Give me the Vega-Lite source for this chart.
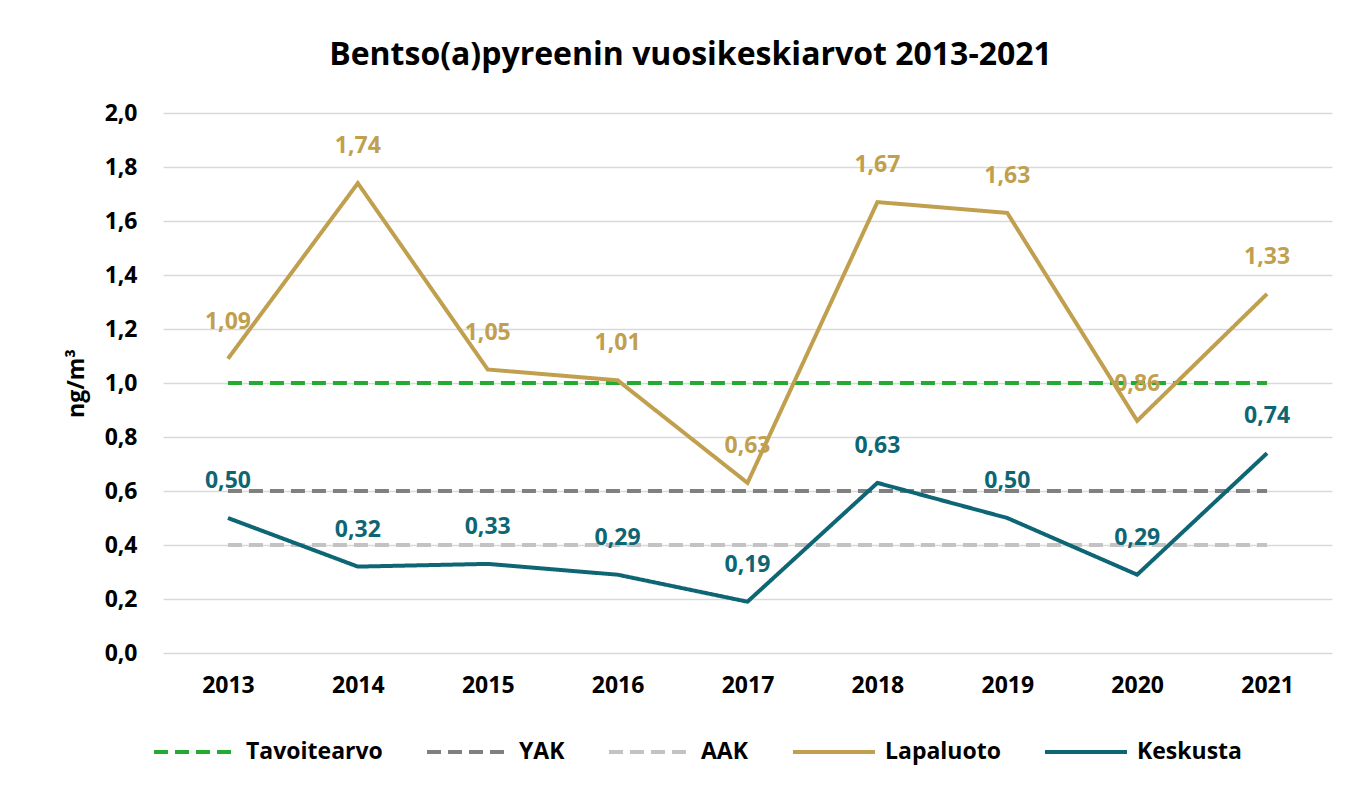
{
  "$schema": "https://vega.github.io/schema/vega-lite/v6.json",
  "width": 1169,
  "height": 540,
  "autosize": "none",
  "padding": {"left": 163, "top": 113, "right": 19, "bottom": 136},
  "background": "white",
  "title": {
    "text": "Bentso(a)pyreenin vuosikeskiarvot 2013-2021",
    "font": "Open Sans",
    "fontSize": 32,
    "fontWeight": "bold",
    "color": "#000000",
    "anchor": "middle",
    "frame": "group",
    "dx": -57,
    "offset": 30
  },
  "data": {
    "values": [
      {"year": "2013", "series": "Tavoitearvo", "value": 1.0},
      {"year": "2014", "series": "Tavoitearvo", "value": 1.0},
      {"year": "2015", "series": "Tavoitearvo", "value": 1.0},
      {"year": "2016", "series": "Tavoitearvo", "value": 1.0},
      {"year": "2017", "series": "Tavoitearvo", "value": 1.0},
      {"year": "2018", "series": "Tavoitearvo", "value": 1.0},
      {"year": "2019", "series": "Tavoitearvo", "value": 1.0},
      {"year": "2020", "series": "Tavoitearvo", "value": 1.0},
      {"year": "2021", "series": "Tavoitearvo", "value": 1.0},
      {"year": "2013", "series": "YAK", "value": 0.6},
      {"year": "2014", "series": "YAK", "value": 0.6},
      {"year": "2015", "series": "YAK", "value": 0.6},
      {"year": "2016", "series": "YAK", "value": 0.6},
      {"year": "2017", "series": "YAK", "value": 0.6},
      {"year": "2018", "series": "YAK", "value": 0.6},
      {"year": "2019", "series": "YAK", "value": 0.6},
      {"year": "2020", "series": "YAK", "value": 0.6},
      {"year": "2021", "series": "YAK", "value": 0.6},
      {"year": "2013", "series": "AAK", "value": 0.4},
      {"year": "2014", "series": "AAK", "value": 0.4},
      {"year": "2015", "series": "AAK", "value": 0.4},
      {"year": "2016", "series": "AAK", "value": 0.4},
      {"year": "2017", "series": "AAK", "value": 0.4},
      {"year": "2018", "series": "AAK", "value": 0.4},
      {"year": "2019", "series": "AAK", "value": 0.4},
      {"year": "2020", "series": "AAK", "value": 0.4},
      {"year": "2021", "series": "AAK", "value": 0.4},
      {"year": "2013", "series": "Lapaluoto", "value": 1.09},
      {"year": "2014", "series": "Lapaluoto", "value": 1.74},
      {"year": "2015", "series": "Lapaluoto", "value": 1.05},
      {"year": "2016", "series": "Lapaluoto", "value": 1.01},
      {"year": "2017", "series": "Lapaluoto", "value": 0.63},
      {"year": "2018", "series": "Lapaluoto", "value": 1.67},
      {"year": "2019", "series": "Lapaluoto", "value": 1.63},
      {"year": "2020", "series": "Lapaluoto", "value": 0.86},
      {"year": "2021", "series": "Lapaluoto", "value": 1.33},
      {"year": "2013", "series": "Keskusta", "value": 0.50},
      {"year": "2014", "series": "Keskusta", "value": 0.32},
      {"year": "2015", "series": "Keskusta", "value": 0.33},
      {"year": "2016", "series": "Keskusta", "value": 0.29},
      {"year": "2017", "series": "Keskusta", "value": 0.19},
      {"year": "2018", "series": "Keskusta", "value": 0.63},
      {"year": "2019", "series": "Keskusta", "value": 0.50},
      {"year": "2020", "series": "Keskusta", "value": 0.29},
      {"year": "2021", "series": "Keskusta", "value": 0.74}
    ]
  },
  "encoding": {
    "x": {
      "field": "year",
      "type": "ordinal",
      "scale": {"type": "point", "padding": 0.5},
      "axis": {
        "title": null,
        "labelAngle": 0,
        "labelFont": "Open Sans",
        "labelFontSize": 23,
        "labelFontWeight": "bold",
        "labelColor": "#000000",
        "labelPadding": 21,
        "domain": false,
        "ticks": false,
        "grid": false
      }
    },
    "y": {
      "field": "value",
      "type": "quantitative",
      "scale": {"domain": [0, 2]},
      "axis": {
        "title": "ng/m³",
        "titleFont": "Open Sans",
        "titleFontSize": 23,
        "titleFontWeight": "bold",
        "titleColor": "#000000",
        "titleAngle": -90,
        "titleX": -87,
        "titleY": 270,
        "titleAlign": "center",
        "titleBaseline": "middle",
        "values": [0, 0.2, 0.4, 0.6, 0.8, 1.0, 1.2, 1.4, 1.6, 1.8, 2.0],
        "format": ".1f",
        "labelFont": "Open Sans",
        "labelFontSize": 23,
        "labelFontWeight": "bold",
        "labelColor": "#000000",
        "labelPadding": 26,
        "domain": false,
        "ticks": false,
        "grid": true,
        "gridColor": "#D9D9D9",
        "gridWidth": 1.5
      }
    },
    "color": {
      "field": "series",
      "type": "nominal",
      "scale": {
        "domain": ["Tavoitearvo", "YAK", "AAK", "Lapaluoto", "Keskusta"],
        "range": ["#22AA33", "#808080", "#C3C3C3", "#C0A04F", "#0E6675"]
      },
      "legend": {
        "title": null,
        "orient": "none",
        "direction": "horizontal",
        "legendX": -11,
        "legendY": 596,
        "symbolType": "stroke",
        "symbolSize": 6724,
        "labelFont": "Open Sans",
        "labelFontSize": 23,
        "labelFontWeight": "bold",
        "labelColor": "#000000",
        "labelOffset": 8,
        "columnPadding": 36,
        "padding": 0
      }
    },
    "strokeDash": {
      "field": "series",
      "type": "nominal",
      "scale": {
        "domain": ["Tavoitearvo", "YAK", "AAK", "Lapaluoto", "Keskusta"],
        "range": [[14, 7], [14, 7], [14, 7], [1, 0], [1, 0]]
      },
      "legend": null
    },
    "strokeWidth": {
      "field": "series",
      "type": "nominal",
      "scale": {
        "domain": ["Tavoitearvo", "YAK", "AAK", "Lapaluoto", "Keskusta"],
        "range": [4, 4, 4, 6, 6]
      },
      "legend": null
    }
  },
  "layer": [
    {
      "transform": [{"filter": "datum.series === 'Tavoitearvo' || datum.series === 'YAK' || datum.series === 'AAK'"}],
      "mark": {"type": "line"}
    },
    {
      "transform": [{"filter": "datum.series === 'Lapaluoto' || datum.series === 'Keskusta'"}],
      "mark": {"type": "line", "strokeJoin": "miter"}
    },
    {
      "transform": [{"filter": "datum.series === 'Lapaluoto' || datum.series === 'Keskusta'"}],
      "mark": {"type": "text", "dy": -37, "font": "Open Sans", "fontSize": 23, "fontWeight": "bold"},
      "encoding": {
        "text": {"field": "value", "type": "quantitative", "format": ".2f"},
        "strokeDash": null,
        "strokeWidth": null
      }
    }
  ],
  "config": {
    "locale": {"number": {"decimal": ",", "thousands": " ", "grouping": [3], "currency": ["", " €"]}},
    "view": {"stroke": null}
  }
}
